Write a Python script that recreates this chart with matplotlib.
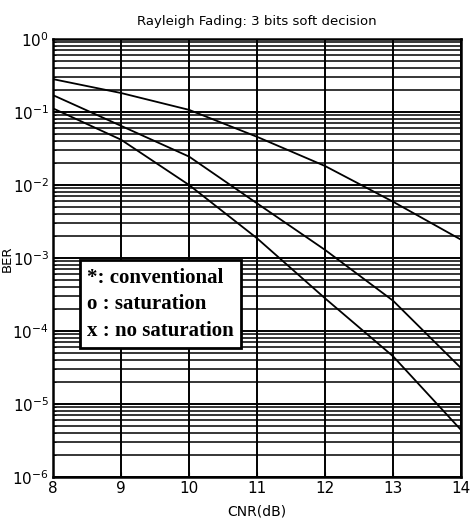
import numpy as np
import matplotlib.pyplot as plt
from matplotlib.ticker import FixedLocator, NullFormatter

# values (BER on log scale)
cnr = [8, 9, 10, 11, 12, 13, 14]
ber_conventional = [0.282, 0.182, 0.107, 0.0457, 0.0182, 0.0059, 0.00178]
ber_saturation = [0.17, 0.0646, 0.0245, 0.0056, 0.00129, 0.00026, 0.000031]
ber_no_saturation = [0.112, 0.0417, 0.0100, 0.00186, 0.00028, 0.000045, 0.0000044]

fig = plt.figure(figsize=(4.7, 5.28), dpi=100)
ax = fig.add_axes([0.113, 0.0966, 0.868, 0.8295])

for b in (ber_conventional, ber_saturation, ber_no_saturation):
    ax.semilogy(cnr, b, color='black', lw=1.3)

ax.set_xlim(8, 14)
ax.set_ylim(1e-6, 1)
decades = 10.0 ** np.arange(-6, 1)
ax.set_yticks(decades)
ax.yaxis.set_minor_locator(FixedLocator(np.outer(decades[:-1], np.arange(2, 10)).ravel()))
ax.yaxis.set_minor_formatter(NullFormatter())
ax.grid(True, which='major', color='black', lw=1.4)
ax.grid(True, which='minor', axis='y', color='black', lw=1.1)
ax.tick_params(direction='in', which='both', labelsize=11, pad=3)
for s in ax.spines.values():
    s.set_linewidth(1.8)

ax.set_title('Rayleigh Fading: 3 bits soft decision', fontsize=9.5, pad=10)
ax.set_xlabel('CNR(dB)', fontsize=10, labelpad=6)
fig.text(0.016, 0.51, 'BER', rotation=90, fontsize=9.5, ha='center', va='center')

ax.text(0.083, 0.478, '*: conventional\no : saturation\nx : no saturation',
        transform=ax.transAxes, fontsize=15, family='Liberation Serif',
        weight='bold', va='top', ha='left', linespacing=1.45,
        bbox=dict(boxstyle='square,pad=0.35', fc='white', ec='black', lw=2))

fig.savefig('out.png', dpi=100)
